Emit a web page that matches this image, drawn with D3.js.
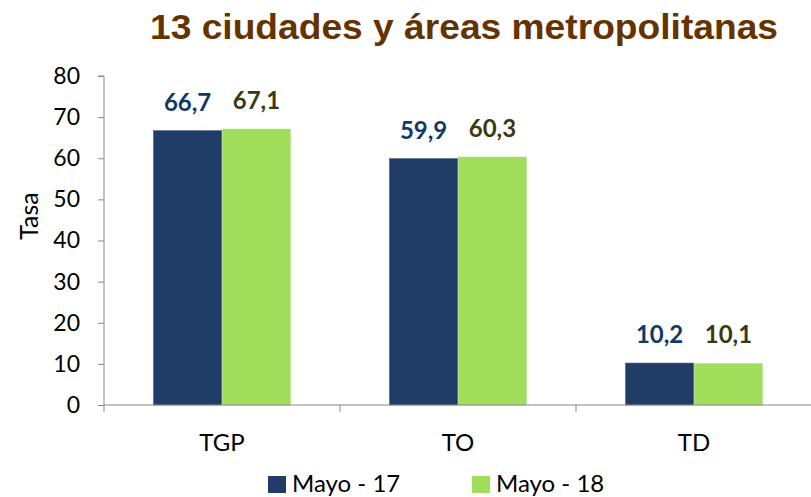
<!DOCTYPE html>
<html><head><meta charset="utf-8">
<script src="https://cdn.jsdelivr.net/npm/d3@7"></script>
<style>body{margin:0;background:#fff}svg{display:block}</style>
</head><body>
<svg id="c" width="811" height="497"></svg>
<script>
const categories = ["TGP", "TO", "TD"];
const seriesNames = ["Mayo - 17", "Mayo - 18"];
const mayo17 = [66.7, 59.9, 10.2];
const mayo18 = [67.1, 60.3, 10.1];
const yTicks = [0, 10, 20, 30, 40, 50, 60, 70, 80];
const colors = ["#1F3D66", "#A0DD5A"];
const labelColors = ["#0F3A66", "#3A3A10"];

const svg = d3.select("#c");
const m = {left: 104};
const x0 = d3.scaleBand().domain(categories).range([m.left, 812]).paddingInner(0).paddingOuter(0);
const y = d3.scaleLinear().domain([0, 80]).range([405, 76]);
const barW = 68;
const x1 = d3.scaleBand().domain([0, 1]).range([0, barW * 2 + 1]).paddingInner(0.01);

const fmt = v => v.toFixed(1).replace(".", ",");
const F = "Lato, Carlito, sans-serif";

// title
svg.append("text").attr("x", 464).attr("y", 39).attr("text-anchor", "middle")
  .attr("font-family", "Liberation Sans, Arial, sans-serif").attr("font-weight", "bold")
  .attr("font-size", 35).attr("fill", "#663300")
  .attr("textLength", 628).attr("lengthAdjust", "spacingAndGlyphs")
  .text("13 ciudades y áreas metropolitanas");

// y axis
const yAxis = d3.axisLeft(y).tickValues(yTicks).tickSize(6).tickPadding(18);
const gy = svg.append("g").attr("transform", `translate(${m.left},0)`).call(yAxis);
gy.select(".domain").attr("stroke", "#888").attr("d", `M-6,${y(80)}H0V${y(0)}`);
gy.selectAll(".tick line").attr("stroke", "#888");
gy.selectAll(".tick text").attr("font-family", F).attr("font-size", 23).attr("fill", "#000");

svg.append("text").attr("transform", "translate(38,216) rotate(-90)").attr("text-anchor", "middle")
  .attr("font-family", F).attr("font-size", 25).attr("fill", "#000").text("Tasa");

// bars
const data = categories.map((c, i) => ({c, vals: [mayo17[i], mayo18[i]]}));
const g = svg.append("g");
data.forEach(d => {
  const cx = x0(d.c) + x0.bandwidth() / 2;
  const start = cx - (barW * 2 + 1) / 2;
  d.vals.forEach((v, j) => {
    const bx = start + x1(j);
    g.append("rect").attr("x", bx).attr("y", y(v)).attr("width", x1.bandwidth()).attr("height", y(0) - y(v))
      .attr("fill", colors[j]).attr("stroke", j === 0 ? "#4a5d78" : "#b5e08a").attr("stroke-width", 0.6);
    g.append("text").attr("x", bx + x1.bandwidth() / 2).attr("y", y(v) - 20).attr("text-anchor", "middle")
      .attr("font-family", F).attr("font-weight", "bold").attr("font-size", 24)
      .attr("fill", labelColors[j]).text(fmt(v));
  });
});

// x axis
const xAxis = d3.axisBottom(x0).tickSize(0).tickPadding(29);
const gx = svg.append("g").attr("transform", `translate(0,${y(0)})`).call(xAxis);
gx.select(".domain").attr("stroke", "#888").attr("d", `M${m.left},0H812`);
gx.selectAll(".tick text").attr("font-family", F).attr("font-size", 24).attr("fill", "#000");
const seps = categories.map(c => x0(c));
svg.append("g").selectAll("line").data(seps).join("line")
  .attr("x1", d => d).attr("x2", d => d).attr("y1", y(0)).attr("y2", y(0) + 7).attr("stroke", "#888");

// legend
const lg = svg.append("g");
const lx = [268, 472];
seriesNames.forEach((s, j) => {
  lg.append("rect").attr("x", lx[j]).attr("y", 476).attr("width", 18).attr("height", 17).attr("fill", colors[j]);
  lg.append("text").attr("x", lx[j] + 24).attr("y", 492).attr("font-family", F)
    .attr("font-size", 24).attr("fill", "#000").text(s);
});
</script>
</body></html>
